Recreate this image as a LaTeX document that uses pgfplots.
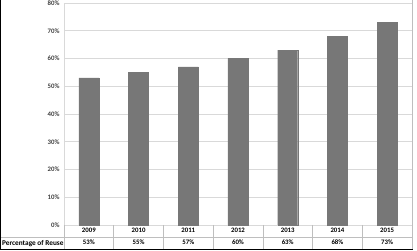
\documentclass[border=0pt]{standalone}
\usepackage{pgfplots}
\pgfplotsset{compat=1.18}
\usepackage{fontspec}
\setmainfont{Carlito}
\definecolor{barc}{HTML}{777777}
\definecolor{gridc}{HTML}{D9D9D9}
\definecolor{txt}{HTML}{404040}
\begin{document}
\begin{tikzpicture}
\useasboundingbox (-64pt,-26pt) rectangle (353pt,225pt);
\begin{axis}[
  name=ax, at={(0,0)}, anchor=south west,
  scale only axis, width=348pt, height=222pt,
  ymin=0, ymax=80, ytick={0,10,...,80},
  xmin=-0.5, xmax=6.5, xtick={0,...,6},
  xticklabels={{2009\\53\%},{2010\\55\%},{2011\\57\%},{2012\\60\%},{2013\\63\%},{2014\\68\%},{2015\\73\%}},
  xticklabel style={font=\fontsize{6.8}{12}\selectfont\bfseries, align=center, anchor=north, inner sep=0pt, yshift=-3pt, text=black},
  yticklabel={\pgfmathprintnumber{\tick}\%},
  yticklabel style={font=\fontsize{6.8}{7}\selectfont\bfseries, text=txt, xshift=-1pt},
  /pgf/number format/assume math mode=true,
  ymajorgrids, grid style={gridc, line width=0.6pt},
  major tick length=0pt,
  axis line style={gridc, line width=0.6pt},
  axis x line*=bottom, axis y line*=left,
  clip=false,
]
\addplot[ybar, bar width=20pt, fill=barc, draw=barc, line width=0.3pt] coordinates {
(0,53) (1,55) (2,57) (3,60) (4,63) (5,68) (6,73)};
\end{axis}
% data table grid
\draw[gridc!70!gray, line width=0.5pt] (-64pt,-12pt) -- (348pt,-12pt);
\foreach \i in {0,...,7} {
  \draw[gridc!70!gray, line width=0.5pt] ({\i*348/7*1pt},0pt) -- ({\i*348/7*1pt},-24pt);
}
\draw[gridc!70!gray, line width=0.5pt] (348pt,225pt) -- (348pt,0pt);
\node[anchor=base west, inner sep=0pt, font=\fontsize{7.3}{8}\selectfont\bfseries] at (-62pt,-20.5pt) {Percentage of Reuse};
% outer frame
\draw[black, line width=1pt] (-63.5pt,225pt) -- (-63.5pt,-24.5pt) -- (349pt,-24.5pt);
\end{tikzpicture}
\end{document}
